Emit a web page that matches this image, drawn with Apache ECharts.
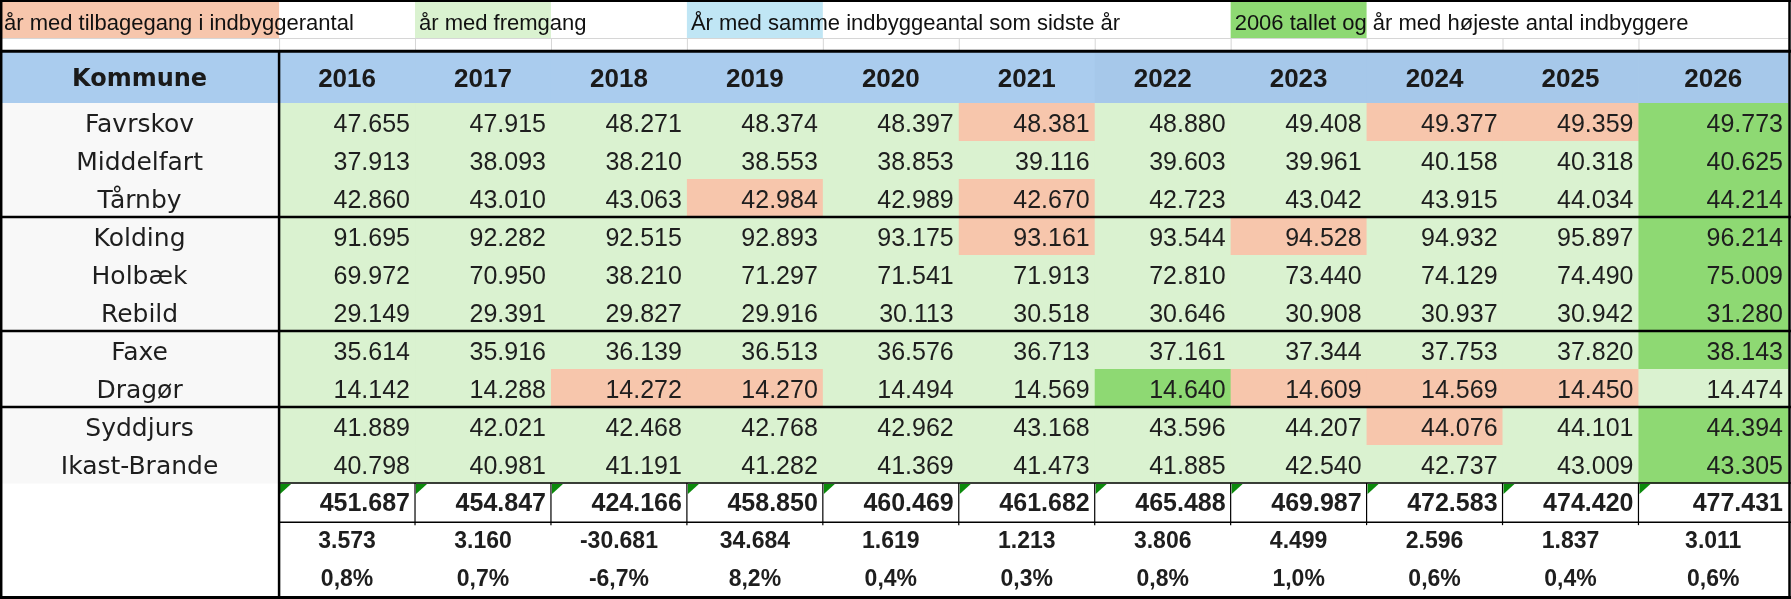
<!DOCTYPE html>
<html><head><meta charset="utf-8">
<script src="https://cdn.jsdelivr.net/npm/echarts@6/dist/echarts.min.js"></script>
<style>html,body{margin:0;padding:0;background:#fff}#c{width:1791px;height:599px}</style>
</head><body><div id="c"></div>
<script>
// ---------- data ----------
const years = [2016, 2017, 2018, 2019, 2020, 2021, 2022, 2023, 2024, 2025, 2026];
const kommuner = ['Favrskov', 'Middelfart', 'Tårnby', 'Kolding', 'Holbæk', 'Rebild', 'Faxe', 'Dragør', 'Syddjurs', 'Ikast-Brande'];
const favrskov    = [47655, 47915, 48271, 48374, 48397, 48381, 48880, 49408, 49377, 49359, 49773];
const middelfart  = [37913, 38093, 38210, 38553, 38853, 39116, 39603, 39961, 40158, 40318, 40625];
const taarnby     = [42860, 43010, 43063, 42984, 42989, 42670, 42723, 43042, 43915, 44034, 44214];
const kolding     = [91695, 92282, 92515, 92893, 93175, 93161, 93544, 94528, 94932, 95897, 96214];
const holbaek     = [69972, 70950, 38210, 71297, 71541, 71913, 72810, 73440, 74129, 74490, 75009];
const rebild      = [29149, 29391, 29827, 29916, 30113, 30518, 30646, 30908, 30937, 30942, 31280];
const faxe        = [35614, 35916, 36139, 36513, 36576, 36713, 37161, 37344, 37753, 37820, 38143];
const dragoer     = [14142, 14288, 14272, 14270, 14494, 14569, 14640, 14609, 14569, 14450, 14474];
const syddjurs    = [41889, 42021, 42468, 42768, 42962, 43168, 43596, 44207, 44076, 44101, 44394];
const ikastBrande = [40798, 40981, 41191, 41282, 41369, 41473, 41885, 42540, 42737, 43009, 43305];
const totals     = [451687, 454847, 424166, 458850, 460469, 461682, 465488, 469987, 472583, 474420, 477431];
const changes    = [3573, 3160, -30681, 34684, 1619, 1213, 3806, 4499, 2596, 1837, 3011];
const changePct  = [0.8, 0.7, -6.7, 8.2, 0.4, 0.3, 0.8, 1.0, 0.6, 0.4, 0.6];
// highlighted cells
const declineYears = [[2021, 2024, 2025], [], [2019, 2021], [2021, 2023], [], [], [], [2018, 2019, 2023, 2024, 2025], [2024], []];
const peakYear     = [2026, 2026, 2026, 2026, 2026, 2026, 2026, 2022, 2026, 2026];
const legendTexts   = ['år med tilbagegang i indbyggerantal', 'år med fremgang', 'År med samme indbyggeantal som sidste år', '2006 tallet og år med højeste antal indbyggere'];
const legendColumns = [null, 2017, 2019, 2023];
const groupStarts   = [3, 6, 8];

const rows = [favrskov, middelfart, taarnby, kolding, holbaek, rebild, faxe, dragoer, syddjurs, ikastBrande];

// ---------- layout / style ----------
const X_MIN = -2.553, X_MAX = 10.6;      // kommune column to the left, wider last column
const Y_MIN = -2.7105, Y_MAX = 13;       // legend + header above row 0
const HEADER_TOP = -1.368;
const TOTAL_BOTTOM = 11.03;
const COL = { decline: '#F7C6AC', growth: '#DAF2D0', same: '#C0E6F5', peak: '#8ED973',
              header: '#AACCEE', header2: '#A6C8EA', name: '#F8F8F8', text: '#1E1E1E' };
const legendColors = [COL.decline, COL.growth, COL.same, COL.peak];
const NUM_FONT = '25px "Liberation Sans", Arial, sans-serif';
const BOLD_FONT = 'bold 25px "Liberation Sans", Arial, sans-serif';
const SMALL_BOLD = 'bold 23px "Liberation Sans", Arial, sans-serif';
const NAME_FONT = '25px "DejaVu Sans", sans-serif';
const LEGEND_FONT = '22px "Liberation Sans", Arial, sans-serif';

function fmt(v) {
  const s = Math.abs(v).toString().replace(/\B(?=(\d{3})+(?!\d))/g, '.');
  return (v < 0 ? '-' : '') + s;
}
function fmtPct(v) { return v.toFixed(1).replace('.', ',') + '%'; }

function colSpan(api, c) {
  const last = years.length - 1;
  const l = c < 0 ? X_MIN : c - 0.5;
  const r = c < 0 ? -0.5 : (c === last ? X_MAX : c + 0.5);
  return [api.coord([l, 0])[0], api.coord([r, 0])[0]];
}
function rowSpan(api, a, b) { return [api.coord([0, a])[1], api.coord([0, b])[1]]; }
function rect(x0, y0, x1, y1, fill) {
  return { type: 'rect', shape: { x: x0, y: y0, width: x1 - x0, height: y1 - y0 }, style: { fill: fill } };
}
function txt(s, x, y, font, align, fill) {
  return { type: 'text', style: { text: s, x: x, y: y, font: font, align: align, verticalAlign: 'middle', fill: fill || COL.text } };
}
function ln(x1, y1, x2, y2, w, c) {
  return { type: 'line', shape: { x1: x1, y1: y1, x2: x2, y2: y2 }, style: { stroke: c || '#000', lineWidth: w } };
}

// ---------- series data ----------
const legendData = legendTexts.map((t, i) => [legendColumns[i] === null ? -1 : years.indexOf(legendColumns[i]), Y_MIN, i]);
const headerData = [[-1, HEADER_TOP, 'Kommune']].concat(years.map((y, i) => [i, HEADER_TOP, String(y)]));
const nameData = kommuner.map((k, r) => [-1, r, k]);
const cellData = [];
rows.forEach((vals, r) => vals.forEach((v, c) => {
  const kind = peakYear[r] === years[c] ? 'peak' : (declineYears[r].includes(years[c]) ? 'decline' : 'growth');
  cellData.push([c, r, v, kind]);
}));
const totalData = totals.map((v, c) => [c, 10, v]);
const changeData = changes.map((v, c) => [c, 11, v]);
const pctData = changePct.map((v, c) => [c, 12, v]);

const base = { type: 'custom', coordinateSystem: 'cartesian2d', encode: { x: 0, y: 1 }, animation: false, silent: true };

const option = {
  animation: false,
  grid: { left: 0, right: 3, top: 0, bottom: 2 },
  xAxis: { type: 'value', min: X_MIN, max: X_MAX, show: false },
  yAxis: { type: 'value', min: Y_MIN, max: Y_MAX, inverse: true, show: false },
  series: [
    Object.assign({}, base, { name: 'legend', z: 2, data: legendData,
      renderItem: (p, api) => {
        const c = api.value(0), i = api.value(2);
        const [x0, x1] = colSpan(api, c);
        const [y0, y1] = rowSpan(api, Y_MIN, Y_MIN + 1);
        return { type: 'group', children: [rect(x0, y0, x1, y1, legendColors[i]),
          txt(legendTexts[i], x0 + 4, (y0 + y1) / 2 + 5, LEGEND_FONT, 'left', '#111')] };
      } }),
    Object.assign({}, base, { name: 'header', z: 2, data: headerData,
      renderItem: (p, api) => {
        const c = api.value(0);
        const [x0, x1] = colSpan(api, c);
        const [y0, y1] = rowSpan(api, HEADER_TOP, 0);
        const label = headerData[p.dataIndex][2];
        const font = c < 0 ? 'bold 24px "DejaVu Sans", sans-serif' : 'bold 26px "Liberation Sans", Arial, sans-serif';
        return { type: 'group', children: [rect(x0, y0, x1 + 0.5, y1, c >= 6 ? COL.header2 : COL.header),
          txt(label, (x0 + x1) / 2, (y0 + y1) / 2 + 3, font, 'center', '#1a1a1a')] };
      } }),
    Object.assign({}, base, { name: 'kommune', z: 2, data: nameData,
      renderItem: (p, api) => {
        const r = api.value(1);
        const [x0, x1] = colSpan(api, -1);
        const [y0, y1] = rowSpan(api, r, r + 1);
        return { type: 'group', children: [rect(x0, y0, x1, y1 + 0.5, COL.name),
          txt(kommuner[r], (x0 + x1) / 2, (y0 + y1) / 2 + 4, NAME_FONT, 'center')] };
      } }),
    Object.assign({}, base, { name: 'cells', z: 2, data: cellData,
      renderItem: (p, api) => {
        const c = api.value(0), r = api.value(1), v = api.value(2);
        const kind = cellData[p.dataIndex][3];
        const [x0, x1] = colSpan(api, c);
        const [y0, y1] = rowSpan(api, r, r + 1);
        return { type: 'group', children: [rect(x0, y0, x1 + 0.5, y1 + 0.5, COL[kind]),
          txt(fmt(v), x1 - 5, (y0 + y1) / 2 + 3, NUM_FONT, 'right')] };
      } }),
    Object.assign({}, base, { name: 'totals', z: 3, data: totalData,
      renderItem: (p, api) => {
        const c = api.value(0), v = api.value(2);
        const [x0, x1] = colSpan(api, c);
        const [y0, y1] = rowSpan(api, 10, TOTAL_BOTTOM);
        return { type: 'group', children: [
          txt(fmt(v), x1 - 5, (y0 + y1) / 2 + 2, BOLD_FONT, 'right'),
          { type: 'polygon', shape: { points: [[x0 + 1, y0 + 1], [x0 + 12, y0 + 1], [x0 + 1, y0 + 11]] }, style: { fill: '#0B8A0B' } }] };
      } }),
    Object.assign({}, base, { name: 'change', z: 3, data: changeData,
      renderItem: (p, api) => {
        const c = api.value(0), v = api.value(2);
        const [x0, x1] = colSpan(api, c);
        const [y0, y1] = rowSpan(api, 11, 12);
        return txt(fmt(v), (x0 + x1) / 2, (y0 + y1) / 2 + 2, SMALL_BOLD, 'center');
      } }),
    Object.assign({}, base, { name: 'pct', z: 3, data: pctData,
      renderItem: (p, api) => {
        const c = api.value(0), v = api.value(2);
        const [x0, x1] = colSpan(api, c);
        const [y0, y1] = rowSpan(api, 12, 13);
        return txt(fmtPct(v), (x0 + x1) / 2, (y0 + y1) / 2 + 2, SMALL_BOLD, 'center');
      } }),
    Object.assign({}, base, { name: 'borders', z: 5, data: [[0, 0]],
      renderItem: (p, api) => {
        const L = api.coord([X_MIN, 0])[0], R = api.coord([X_MAX, 0])[0];
        const K = api.coord([-0.5, 0])[0];
        const yAt = v => api.coord([0, v])[1];
        const ch = [];
        const legBot = yAt(Y_MIN + 1), hTop = yAt(HEADER_TOP);
        ch.push(ln(L, legBot + 0.5, R, legBot + 0.5, 1, '#D6D6D6'));
        for (let c = 0; c < years.length; c++) {
          const x = api.coord([c - 0.5, 0])[0];
          ch.push(ln(x + 0.5, legBot, x + 0.5, hTop, 1, '#D6D6D6'));
        }
        ch.push(ln(L, 1, R + 3, 1, 2));
        ch.push(ln(L, hTop + 0.3, R + 3, hTop + 0.3, 3));
        ch.push(ln(K, hTop, K, yAt(Y_MAX) + 2, 2.5));
        groupStarts.forEach(r => { const y = yAt(r); ch.push(ln(L, y, R + 3, y, 2.5)); });
        const tTop = yAt(10), tBot = yAt(TOTAL_BOTTOM);
        ch.push(ln(K, tTop, R + 3, tTop, 1.5));
        ch.push(ln(K, tBot, R + 3, tBot, 1.5));
        for (let c = 1; c < years.length; c++) {
          const x = api.coord([c - 0.5, 0])[0];
          ch.push(ln(x, tTop, x, tBot + 3, 1.2));
        }
        ch.push(ln(L + 1.2, 0, L + 1.2, yAt(Y_MAX) + 2, 2.5));
        ch.push(ln(R + 1.5, 0, R + 1.5, yAt(Y_MAX) + 2, 2.5));
        ch.push(ln(L, yAt(Y_MAX) + 0.5, R + 3, yAt(Y_MAX) + 0.5, 3));
        return { type: 'group', children: ch };
      } })
  ]
};
const chart = echarts.init(document.getElementById('c'), null, { renderer: 'canvas' });
chart.setOption(option);
</script></body></html>
